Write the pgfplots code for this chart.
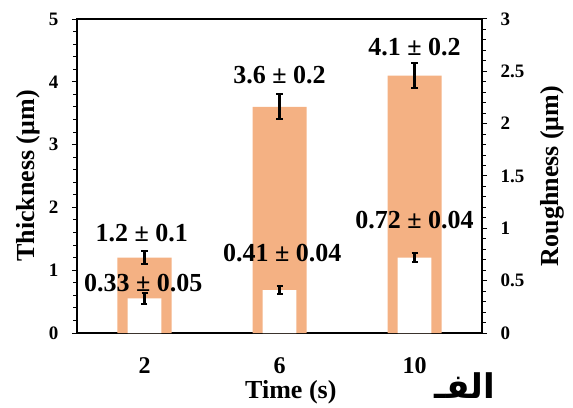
\documentclass[border=0pt]{standalone}
\usepackage{pgfplots}
\pgfplotsset{compat=1.18}
\usepackage{fontspec}
\setmainfont{Liberation Serif}
\newfontfamily\arabicfont[Script=Arabic]{DejaVu Sans}
\TeXXeTstate=1
\definecolor{barorange}{RGB}{244,177,131}
\begin{document}
\begin{tikzpicture}
\path[use as bounding box] (-77pt,-74pt) rectangle (496pt,333pt);
\begin{axis}[
  at={(0,0)}, anchor=south west,
  scale only axis, width=405pt, height=314pt,
  xmin=-0.5, xmax=2.5, ymin=0, ymax=5,
  clip=false,
  axis line style={line width=1.2pt},
  xtick={0,1,2}, xticklabels={2,6,10}, xtick pos=bottom,
  major x tick style={draw=none},
  ytick={0,1,2,3,4,5}, minor y tick num=4, ytick pos=left,
  tick align=outside,
  major tick length=5pt, minor tick length=3.5pt,
  tick style={black, line width=1pt},
  /pgf/number format/assume math mode=true,
  yticklabel style={font=\fontsize{19}{19}\selectfont\bfseries, xshift=-10pt},
  xticklabel style={font=\fontsize{24}{24}\selectfont\bfseries, anchor=center, yshift=-28pt},
]
\addplot[ybar, bar width=0.4, fill=barorange, draw=none,
  error bars/.cd, y dir=both, y explicit,
  error bar style={draw=black, line width=2.2pt},
  error mark=|,
  error mark options={draw=black, mark size=3.5pt, line width=2pt}]
  coordinates {(0,1.2) +- (0,0.1) (1,3.6) +- (0,0.2) (2,4.1) +- (0,0.2)};
\node[font=\fontsize{26}{26}\selectfont\bfseries] at (axis cs:-0.02,1.59) {1.2 ± 0.1};
\node[font=\fontsize{26}{26}\selectfont\bfseries] at (axis cs:1.0,4.11) {3.6 ± 0.2};
\node[font=\fontsize{26}{26}\selectfont\bfseries] at (axis cs:2.0,4.55) {4.1 ± 0.2};
\node[rotate=90, font=\fontsize{26}{26}\selectfont\bfseries] at (axis description cs:-0.121,0.5) {Thickness (μm)};
\node[font=\fontsize{26}{26}\selectfont\bfseries] at (axis description cs:0.528,-0.19) {Time (s)};
\node[font=\arabicfont\bfseries\fontsize{34}{34}\selectfont] at (axis description cs:0.958,-0.168) {\beginR الفـ\endR};
\end{axis}
\begin{axis}[
  at={(0,0)}, anchor=south west,
  scale only axis, width=405pt, height=314pt,
  xmin=-0.5, xmax=2.5, ymin=0, ymax=3,
  clip=false,
  axis x line=none, axis y line*=right,
  axis line style={line width=1.2pt, -},
  ytick={0,0.5,1,1.5,2,2.5,3}, minor y tick num=4,
  tick align=outside,
  major tick length=5pt, minor tick length=3.5pt,
  tick style={black, line width=1pt},
  /pgf/number format/assume math mode=true,
  yticklabel style={font=\fontsize{19}{19}\selectfont\bfseries, xshift=10pt},
]
\addplot[ybar, bar width=0.25, fill=white, draw=none,
  error bars/.cd, y dir=both, y explicit,
  error bar style={draw=black, line width=2.2pt},
  error mark=|,
  error mark options={draw=black, mark size=3pt, line width=2pt}]
  coordinates {(0,0.33) +- (0,0.05) (1,0.41) +- (0,0.04) (2,0.72) +- (0,0.04)};
\node[font=\fontsize{26}{26}\selectfont\bfseries] at (axis cs:-0.01,0.478) {0.33 ± 0.05};
\node[font=\fontsize{26}{26}\selectfont\bfseries] at (axis cs:1.02,0.764) {0.41 ± 0.04};
\node[font=\fontsize{26}{26}\selectfont\bfseries] at (axis cs:2.0,1.08) {0.72 ± 0.04};
\node[rotate=90, font=\fontsize{26}{26}\selectfont\bfseries] at (axis description cs:1.173,0.5) {Roughness (μm)};
\end{axis}
\end{tikzpicture}
\end{document}
